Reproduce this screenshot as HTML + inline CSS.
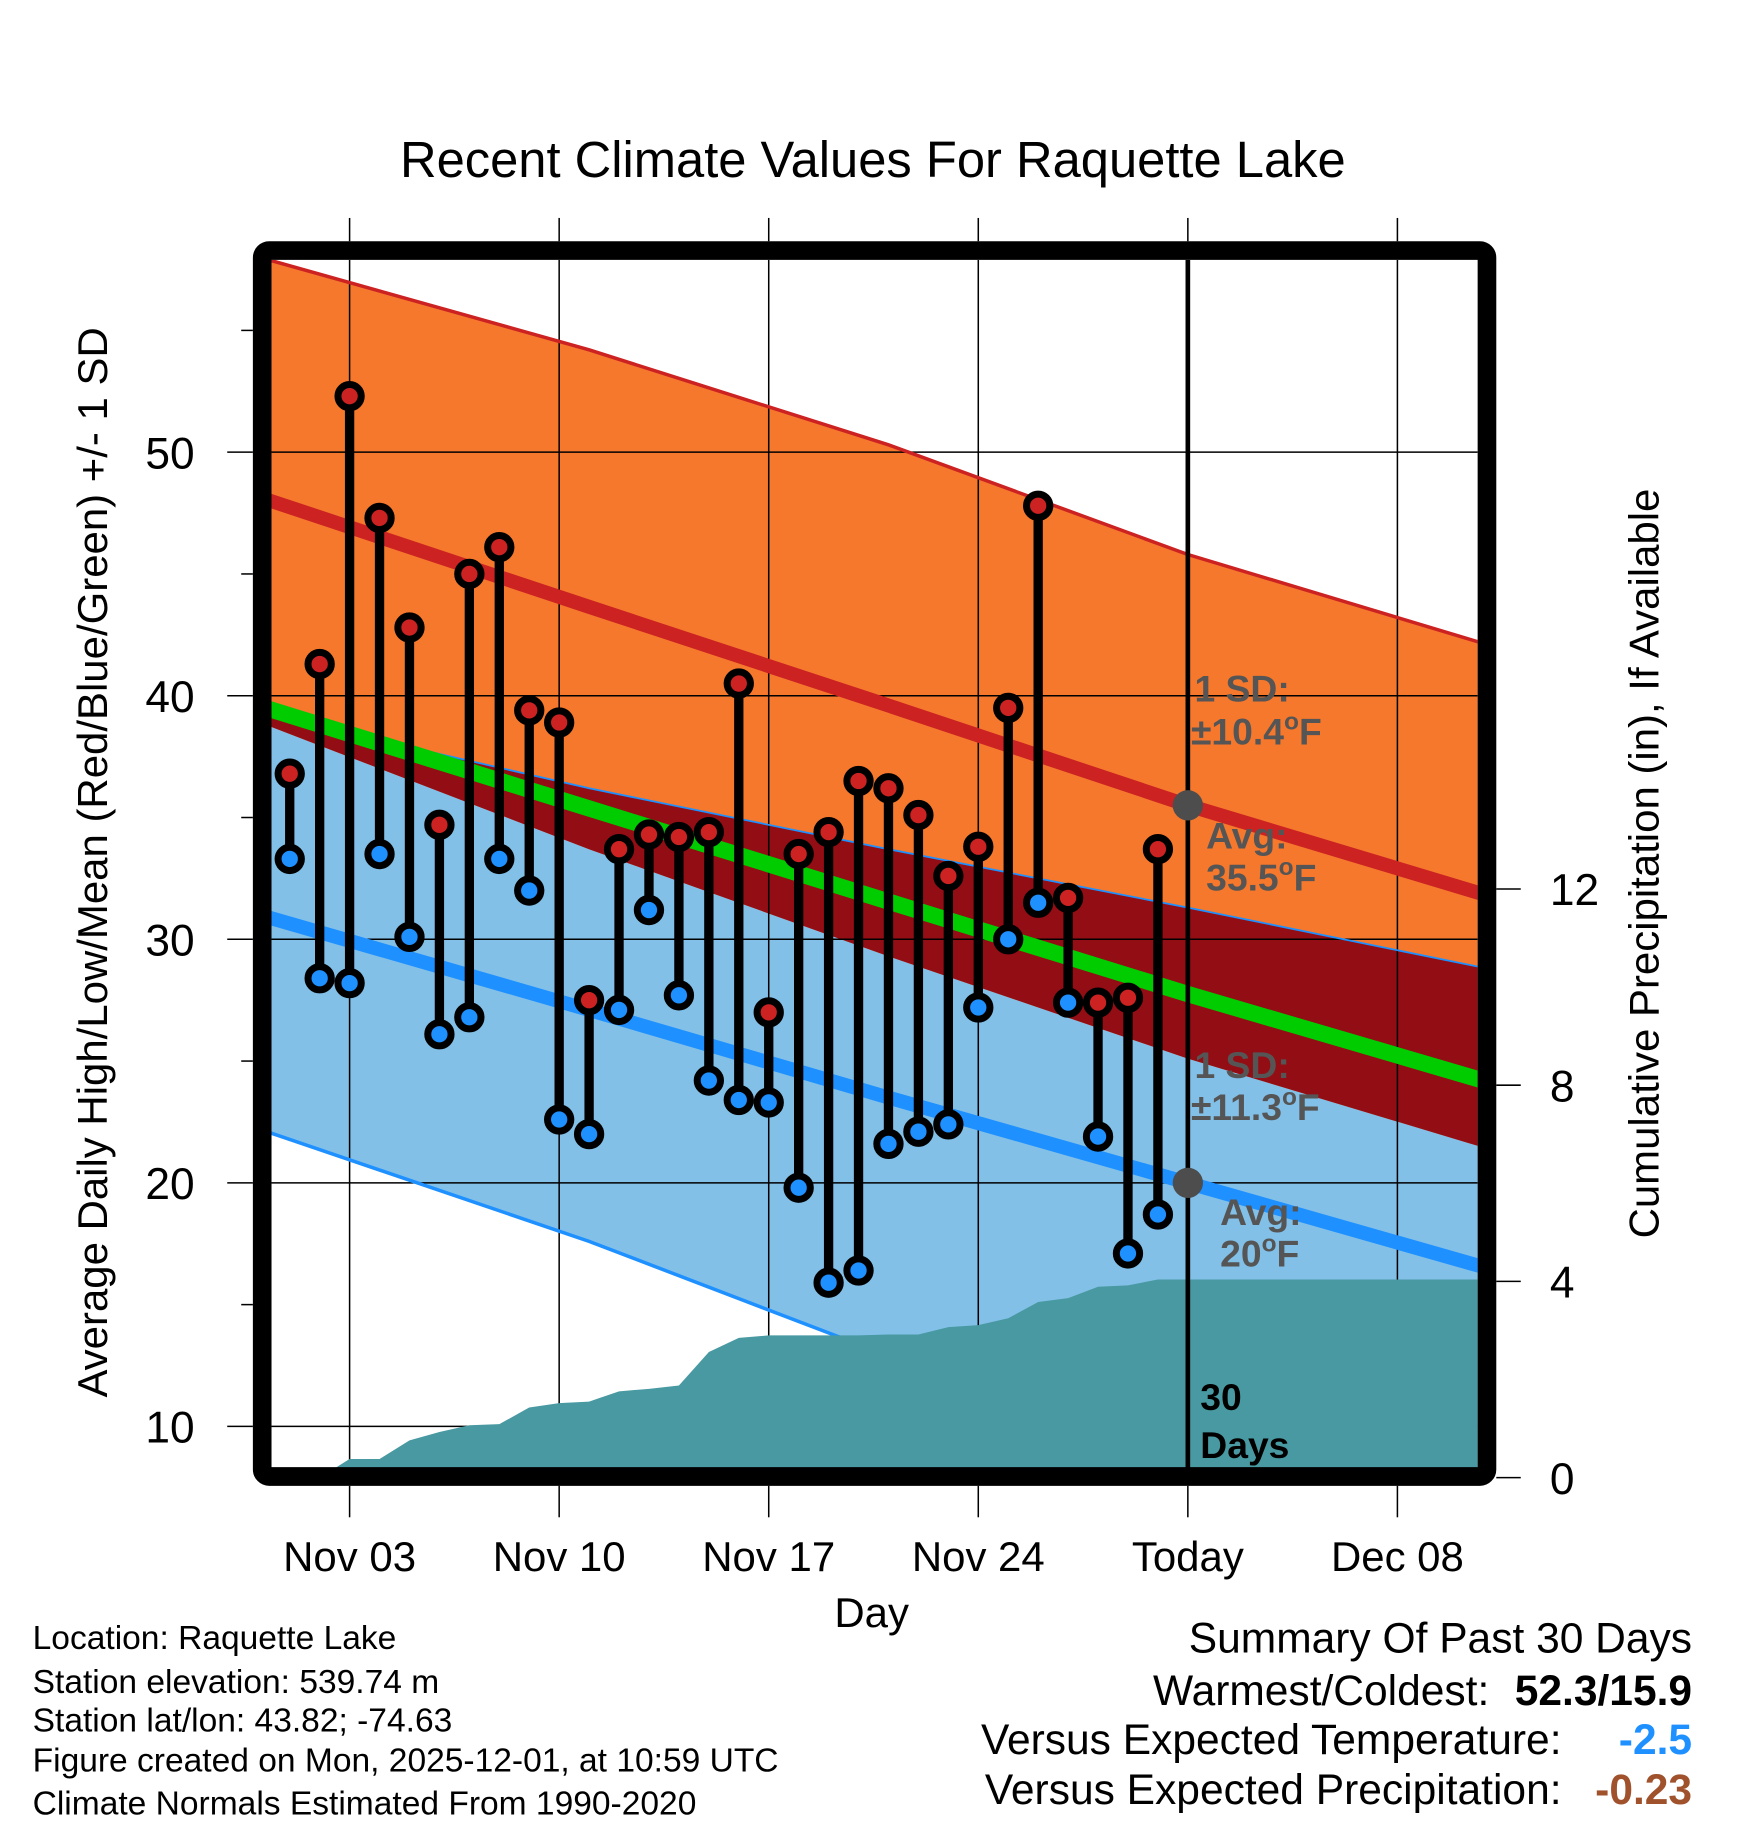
<!DOCTYPE html>
<html><head><meta charset="utf-8"><style>
html,body{margin:0;padding:0;background:#fff;}
svg{display:block;font-family:"Liberation Sans",Arial,sans-serif;}
</style></head><body>
<svg id="chart" xmlns="http://www.w3.org/2000/svg" width="1748" height="1828" viewBox="0 0 1500 1568.6">
<defs><clipPath id="plotclip"><rect x="233" y="223" width="1035" height="1037"/></clipPath></defs>
<text x="749" y="152" font-size="43.5" text-anchor="middle">Recent Climate Values For Raquette Lake</text>
<g id="plot" clip-path="url(#plotclip)"></g>
<g id="over"></g>
<text transform="translate(92,740) rotate(-90)" font-size="36" text-anchor="middle">Average Daily High/Low/Mean (Red/Blue/Green) +/- 1 SD</text>
<text transform="translate(1423,741) rotate(-90)" font-size="36" text-anchor="middle">Cumulative Precipitation (in), If Available</text>
<text x="748" y="1396" font-size="36" text-anchor="middle">Day</text>
<g font-size="28.8">
<text x="28" y="1415">Location: Raquette Lake</text>
<text x="28" y="1453">Station elevation: 539.74 m</text>
<text x="28" y="1486">Station lat/lon: 43.82; -74.63</text>
<text x="28" y="1520">Figure created on Mon, 2025-12-01, at 10:59 UTC</text>
<text x="28" y="1557">Climate Normals Estimated From 1990-2020</text>
</g>
<g font-size="36.5">
<text x="1452" y="1418" text-anchor="end">Summary Of Past 30 Days</text>
<text x="1278" y="1463" text-anchor="end">Warmest/Coldest:</text>
<text x="1452" y="1463" text-anchor="end" font-weight="bold">52.3/15.9</text>
<text x="1340" y="1505" text-anchor="end">Versus Expected Temperature:</text>
<text x="1452" y="1505" text-anchor="end" font-weight="bold" fill="#1e90ff">-2.5</text>
<text x="1340" y="1548" text-anchor="end">Versus Expected Precipitation:</text>
<text x="1452" y="1548" text-anchor="end" font-weight="bold" fill="#a0522d">-0.23</text>
</g>
</svg>
<script>
// ---- data ----
const highs=[36.8,41.3,52.3,47.3,42.8,34.7,45.0,46.1,39.4,38.9,27.5,33.7,34.3,34.2,34.4,40.5,27.0,33.5,34.4,36.5,36.2,35.1,32.6,33.8,39.5,47.8,31.7,27.4,27.6,33.7];
const lows=[33.3,28.4,28.2,33.5,30.1,26.1,26.8,33.3,32.0,22.6,22.0,27.1,31.2,27.7,24.2,23.4,23.3,19.8,15.9,16.4,21.6,22.1,22.4,27.2,30.0,31.5,27.4,21.9,17.1,18.7];
const precip=[0,0,0.38,0.38,0.76,0.93,1.07,1.09,1.43,1.52,1.55,1.76,1.81,1.88,2.56,2.85,2.90,2.90,2.90,2.90,2.92,2.92,3.07,3.11,3.25,3.58,3.66,3.89,3.92,4.04];
const normDays=[-1,10,20,30,40];
const highUpper=[58.0,54.2,50.3,45.8,42.1];
const highAvg=[48.15,43.65,39.6,35.5,31.8];
const highLower=[38.9,33.7,29.3,25.1,21.4];
const lowUpper=[39.3,36.2,33.7,31.3,28.8];
const lowAvg=[31.0,27.1,23.5,20.0,16.5];
const lowLower=[22.2,17.6,12.9,9.0,5.0];
const yTicks=[10,20,30,40,50];
const y2Ticks=[0,4,8,12];
const xTickDays=[2,9,16,23,30,37];
const xTickLabels=["Nov 03","Nov 10","Nov 17","Nov 24","Today","Dec 08"];
const todayDay=30;
// ---- axes ----
const X=d=>300+(d-2)*25.69;
const Y=t=>388+(50-t)*20.9;
const Y2=p=>1268-p*42.1;
const NS="http://www.w3.org/2000/svg";
const plot=document.getElementById('plot'),over=document.getElementById('over');
function mk(tag,attrs,parent){const e=document.createElementNS(NS,tag);for(const k in attrs)e.setAttribute(k,attrs[k]);(parent||plot).appendChild(e);return e;}
function pts(days,vals){return days.map((d,i)=>X(d).toFixed(1)+','+Y(vals[i]).toFixed(1));}
function band(up,lo){return pts(normDays,up).concat(pts(normDays,lo).reverse()).join(' ');}
let e;
e=mk('polygon',{points:band(lowUpper,lowLower),fill:'#82c0e8'});


e=mk('polygon',{points:band(highUpper,highLower),fill:'#f5782d'});


const ovU=lowUpper.map((v,i)=>Math.min(v,highUpper[i]));
const ovL=highLower.map((v,i)=>Math.min(v,lowUpper[i]));
e=mk('polygon',{points:band(ovU,ovL),fill:'#930d14'});


// gridlines
yTicks.forEach(t=>{e=mk('line',{x1:233,x2:1268,y1:Y(t),y2:Y(t),stroke:'#000','stroke-width':1.3});

});
xTickDays.forEach(d=>{e=mk('line',{x1:X(d),x2:X(d),y1:223,y2:1260,stroke:'#000','stroke-width':1.3});

});
function line(vals,col,w,name){e=mk('polyline',{points:pts(normDays,vals).join(' '),fill:'none',stroke:col,'stroke-width':w});

}
line(lowLower,'#1e90ff',3,'low-lower-sd-line');
// precipitation
const pp=['286,1268'];
precip.forEach((p,i)=>pp.push(X(i).toFixed(1)+','+Y2(p).toFixed(1)));
pp.push('1268,'+Y2(precip[precip.length-1]).toFixed(1));pp.push('1268,1268');
e=mk('polygon',{points:pp.join(' '),fill:'#4899a1'});


// lines
line(highUpper,'#cc2222',3,'high-upper-sd-line');
line(lowUpper,'#1e90ff',1.5,'low-upper-sd-line');
line(highAvg,'#cc2222',12,'avg-high-line');
line(lowAvg,'#1e90ff',12,'avg-low-line');
line(highAvg.map((v,i)=>(v+lowAvg[i])/2),'#00cc00',14,'avg-mean-line');
// today line
e=mk('line',{x1:X(todayDay),x2:X(todayDay),y1:223,y2:1260,stroke:'#000','stroke-width':4});


// stems & markers
highs.forEach((h,i)=>{e=mk('line',{x1:X(i),x2:X(i),y1:Y(h),y2:Y(lows[i]),stroke:'#000','stroke-width':8});

});
highs.forEach((h,i)=>{e=mk('circle',{cx:X(i),cy:Y(h),r:10,fill:'#cc2222',stroke:'#000','stroke-width':6});


e=mk('circle',{cx:X(i),cy:Y(lows[i]),r:10,fill:'#1e90ff',stroke:'#000','stroke-width':6});

});
// gray dots at today
const tHigh=35.5,tLow=20;
e=mk('circle',{cx:X(todayDay),cy:Y(tHigh),r:13,fill:'#4d4d4d'},over);


e=mk('circle',{cx:X(todayDay),cy:Y(tLow),r:13,fill:'#4d4d4d'},over);


// frame
e=mk('rect',{x:225,y:215,width:1051,height:1052,rx:6,fill:'none',stroke:'#000','stroke-width':16},over);


// ticks
xTickDays.forEach((d,i)=>{e=mk('line',{x1:X(d),x2:X(d),y1:187,y2:207,stroke:'#000','stroke-width':1.3},over);


e=mk('line',{x1:X(d),x2:X(d),y1:1275,y2:1302,stroke:'#000','stroke-width':1.3},over);


e=mk('text',{x:X(d),y:1348,'font-size':36,'text-anchor':'middle'},over);e.textContent=xTickLabels[i];

});
yTicks.forEach(t=>{e=mk('line',{x1:195,x2:217,y1:Y(t),y2:Y(t),stroke:'#000','stroke-width':1.3},over);


e=mk('text',{x:167,y:Y(t)+14,'font-size':38,'text-anchor':'end'},over);e.textContent=t;


if(t+5<58){e=mk('line',{x1:207,x2:217,y1:Y(t+5),y2:Y(t+5),stroke:'#000','stroke-width':1.3},over);

}});
y2Ticks.forEach(p=>{e=mk('line',{x1:1284,x2:1305,y1:Y2(p),y2:Y2(p),stroke:'#000','stroke-width':1.3},over);


e=mk('text',{x:1330,y:Y2(p)+14,'font-size':38},over);e.textContent=p;

});
// annotations
function ann(txt,x,y,name,col,sup){e=mk('text',{x:x,y:y,'font-size':32,'font-weight':'bold',fill:col||'#555'},over);
if(sup){const parts=txt.split('°');e.appendChild(document.createTextNode(parts[0]));const ts=document.createElementNS(NS,'tspan');ts.setAttribute('dy','-13');ts.setAttribute('font-size','21');ts.textContent='o';e.appendChild(ts);const t2=document.createElementNS(NS,'tspan');t2.setAttribute('dy','13');t2.textContent=parts[1];e.appendChild(t2);}else e.textContent=txt;

}
ann('1 SD:',1025,602,'high-sd-label');
ann('±10.4°F',1022,639,'high-sd-value',null,true);
ann('Avg:',1035,728,'avg-high-label');
ann('35.5°F',1035,764,'avg-high-value',null,true);
ann('1 SD:',1025,925,'low-sd-label');
ann('±11.3°F',1022,961,'low-sd-value',null,true);
ann('Avg:',1047,1051,'avg-low-label');
ann('20°F',1047,1087,'avg-low-value',null,true);
ann('30',1030,1210,'days-count-label','#000');
ann('Days',1030,1251,'days-word-label','#000');
</script>
</body></html>
